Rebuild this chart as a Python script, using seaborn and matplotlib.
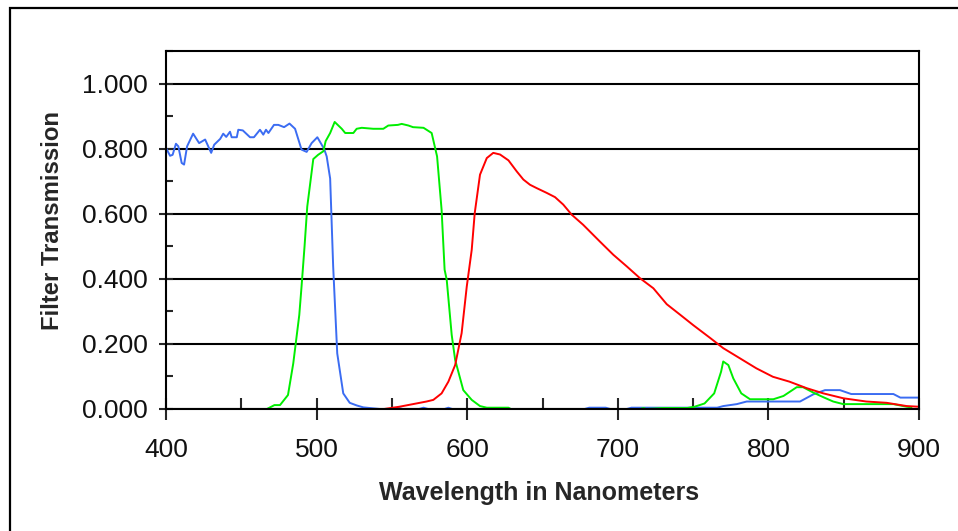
import numpy as np
import pandas as pd
import matplotlib
matplotlib.use('Agg')
import matplotlib.pyplot as plt
import seaborn as sns
from matplotlib.patches import Rectangle
from matplotlib.ticker import MultipleLocator, FormatStrFormatter

# Blue filter
blue_nm = [400, 402.7, 404.4, 406.6, 408.2, 410.4, 412, 414, 418, 422, 426, 430, 432, 436, 438, 440,
           442.5, 443.6, 447, 448, 451, 455.8, 458.4, 462.4, 464.6, 466.4, 468, 471.7, 474.6, 478.4,
           482, 485.7, 490, 493.4, 496.7, 500.5, 505, 506.7, 509, 511, 513.7, 517.7, 522, 526.6, 531,
           537.6, 542, 552, 554, 557, 568, 571, 574, 585, 587.5, 590, 678, 681, 692, 695, 706, 709,
           748, 766, 770, 779, 785.6, 821, 829.8, 837.6, 847.5, 855, 883, 887.6, 900]
blue_tr = [0.802, 0.778, 0.781, 0.815, 0.807, 0.756, 0.751, 0.807, 0.846, 0.817, 0.828, 0.787, 0.812, 0.83, 0.846, 0.836,
           0.852, 0.835, 0.835, 0.858, 0.856, 0.835, 0.835, 0.858, 0.843, 0.858, 0.848, 0.873, 0.873, 0.866,
           0.877, 0.861, 0.797, 0.790, 0.817, 0.835, 0.799, 0.776, 0.708, 0.438, 0.171, 0.048, 0.019, 0.011, 0.005,
           0.002, 0.0, 0.0, 0.004, 0.0, 0.0, 0.004, 0.0, 0.0, 0.004, 0.0, 0.0, 0.004, 0.004, 0.0, 0.0, 0.004,
           0.004, 0.004, 0.009, 0.015, 0.023, 0.023, 0.045, 0.058, 0.058, 0.046, 0.046, 0.035, 0.035]

# Green filter
green_nm = [467, 472, 475.7, 481, 484.5, 488.5, 490, 492, 493.8, 497.8, 501, 504.5, 506, 509, 512, 516.7,
            519, 524.4, 526.6, 530, 537.6, 544.3, 547.6, 554, 556.5, 561, 564, 571, 576.4, 580, 583, 585,
            586.4, 589.7, 592, 597.4, 603, 608.5, 613, 627.4, 629, 715, 717, 719, 730, 746, 751, 757.6,
            764, 768.6, 770, 773.4, 776.7, 782, 787.8, 803.3, 810, 818.8, 823, 830, 836.6, 843, 849.7,
            883, 891.8, 895]
green_tr = [0.0, 0.012, 0.012, 0.043, 0.14, 0.289, 0.376, 0.5, 0.622, 0.768, 0.781, 0.792, 0.823, 0.848, 0.882, 0.861,
            0.848, 0.848, 0.861, 0.864, 0.861, 0.861, 0.871, 0.873, 0.876, 0.871, 0.866, 0.864, 0.848, 0.776, 0.612, 0.428,
            0.397, 0.228, 0.151, 0.058, 0.028, 0.009, 0.004, 0.004, 0.0, 0.0, 0.003, 0.0, 0.003, 0.003, 0.007, 0.017,
            0.048, 0.115, 0.146, 0.135, 0.094, 0.048, 0.03, 0.03, 0.04, 0.067, 0.067, 0.05, 0.036, 0.023, 0.015,
            0.015, 0.007, 0.005]

# Red filter
red_nm = [544.8, 555, 564, 573, 577.5, 583, 587.5, 592, 596.3, 599.7, 603, 605, 608.5, 613, 617.3, 621.8,
          627.4, 632.9, 637.3, 641.7, 646, 652.8, 658.3, 663.8, 669.4, 677, 688, 697, 706, 714.7, 723.6,
          732.5, 741.3, 750, 761.4, 770, 781, 792, 803, 814, 825.4, 836.5, 849.7, 865, 878.5, 891.8, 900]
red_tr = [0.0, 0.007, 0.015, 0.023, 0.028, 0.048, 0.084, 0.135, 0.233, 0.376, 0.489, 0.602, 0.72, 0.771, 0.787, 0.782,
          0.764, 0.73, 0.705, 0.689, 0.679, 0.664, 0.651, 0.628, 0.597, 0.566, 0.515, 0.474, 0.438, 0.402, 0.371,
          0.322, 0.29, 0.258, 0.218, 0.187, 0.156, 0.125, 0.099, 0.084, 0.064, 0.048, 0.033, 0.023, 0.019, 0.009, 0.007]

sns.set_style('white')
plt.rcParams['font.family'] = ['Liberation Sans', 'DejaVu Sans']

fig = plt.figure(figsize=(9.58, 5.31), dpi=100)
ax = fig.add_axes([166 / 958, 1 - 409 / 531, 753 / 958, 358 / 531])

# Outer chart frame
fig.patches.append(Rectangle((10 / 958, -0.05), 1.1, 1.05 - 8 / 531, transform=fig.transFigure,
                             fill=False, lw=1.6, ec='black'))

sns.lineplot(x=blue_nm, y=blue_tr, color='#3b6cf2', lw=1.4, ax=ax, estimator=None)
sns.lineplot(x=green_nm, y=green_tr, color='#00ee00', lw=1.4, ax=ax, estimator=None)
sns.lineplot(x=red_nm, y=red_tr, color='#ff0000', lw=1.4, ax=ax, estimator=None)

ax.set_xlim(400, 900)
ax.set_ylim(0, 1.1)
ax.xaxis.set_major_locator(MultipleLocator(100))
ax.xaxis.set_minor_locator(MultipleLocator(50))
ax.yaxis.set_minor_locator(MultipleLocator(0.1))
ax.set_yticks([0, 0.2, 0.4, 0.6, 0.8, 1.0])
ax.yaxis.set_major_formatter(FormatStrFormatter('%.3f'))

ax.yaxis.grid(True, which='major', color='black', lw=1.5)
ax.xaxis.grid(False)
for s in ax.spines.values():
    s.set_color('black')
    s.set_linewidth(1.5)
    s.set_visible(True)

ax.tick_params(axis='y', which='major', direction='inout', length=10, width=1.5, labelsize=19,
               pad=8, left=True, labelcolor='#111111')
ax.tick_params(axis='y', which='minor', direction='in', length=5, width=1.5, left=True)
ax.tick_params(axis='x', which='major', direction='inout', length=16, width=1.5, labelsize=19,
               pad=13, bottom=True, labelcolor='#111111')
ax.tick_params(axis='x', which='minor', direction='in', length=8, width=1.5, bottom=True)

ax.set_xlabel('Wavelength in Nanometers', fontsize=18, fontweight='bold')
ax.set_ylabel('Filter Transmission', fontsize=17.2, fontweight='bold')
ax.xaxis.set_label_coords(0.496, -(481 - 409) / 358)
ax.yaxis.set_label_coords(-(166 - 64) / 753, 0.527)

fig.savefig('out.png', dpi=100)
